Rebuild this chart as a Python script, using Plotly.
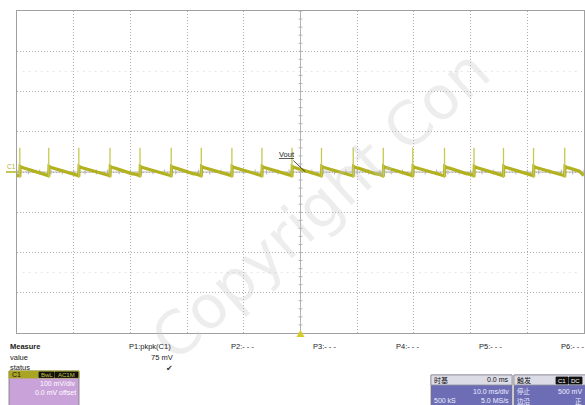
import plotly.graph_objects as go

# ---- data ----
spike_ms = [-49.5, -44.4, -39.1, -33.6, -28.3, -22.8, -17.5, -12.1, -6.8, -1.5,
            3.7, 9.3, 14.6, 19.8, 25.4, 30.6, 35.8, 41.1, 46.6]
spike_top_mv = 60
spike_low_mv = -15
decay_dt_ms = [0.05, 0.3, 1.0, 1.8, 2.6, 3.4, 3.8, 4.6, 5.2]
decay_mv = [14, 12, 9, 5, 2, -1, -4, -6, -8]
pre_mv = -9
t_range = [-50, 50]
v_range = [-400, 400]

W, H = 585, 405
L, R, T, B = 17, 1, 11, 72
PW, PH = W - L - R, H - T - B


def px(x):
    return (x - L) / PW


def py(y):
    return (H - B - y) / PH


# ---- build waveform from the values ----
xs, ys = [t_range[0], spike_ms[0] - 0.05], [pre_mv, pre_mv]
for i, t in enumerate(spike_ms):
    nxt = spike_ms[i + 1] if i + 1 < len(spike_ms) else t_range[1]
    xs.append(t); ys.append(-12)
    for dt, v in zip(decay_dt_ms, decay_mv):
        if t + dt < nxt - 0.05:
            xs.append(t + dt); ys.append(v)
    xs.append(nxt - 0.05); ys.append(decay_mv[-1] - 1)

sx, sy = [], []
for t in spike_ms:
    sx += [t, t, None]
    sy += [spike_low_mv, spike_top_mv, None]

fig = go.Figure()
fig.add_trace(go.Scatter(x=xs, y=ys, mode="lines",
                         line=dict(color="rgb(178,178,32)", width=3.2),
                         hoverinfo="skip", showlegend=False))
fig.add_trace(go.Scatter(x=sx, y=sy, mode="lines",
                         line=dict(color="rgb(200,200,80)", width=1.3),
                         hoverinfo="skip", showlegend=False))

shapes = []
GRID = "#b0b0b0"
# centre cross lines
shapes.append(dict(type="line", xref="x", yref="y", x0=0, x1=0, y0=v_range[0], y1=v_range[1],
                   line=dict(color="#b4b4b4", width=1), layer="below"))
shapes.append(dict(type="line", xref="x", yref="y", x0=t_range[0], x1=t_range[1], y0=0, y1=0,
                   line=dict(color="#b4b4b4", width=1), layer="below"))
# minor ticks on centre lines
for k in range(-25, 26):
    t = k * 2
    shapes.append(dict(type="line", xref="x", yref="y", x0=t, x1=t, y0=-6, y1=6,
                       line=dict(color="#b4b4b4", width=1), layer="below"))
for k in range(-20, 21):
    v = k * 20
    shapes.append(dict(type="line", xref="x", yref="y", x0=-0.35, x1=0.35, y0=v, y1=v,
                       line=dict(color="#b4b4b4", width=1), layer="below"))
# faint ghost rows
for v in (250, -250):
    shapes.append(dict(type="line", xref="x", yref="y", x0=t_range[0] + 1, x1=t_range[1] - 1, y0=v, y1=v,
                       line=dict(color="#e4e4e4", width=1, dash="2px,4px"), layer="below"))

# C1 ground marker
shapes.append(dict(type="line", xref="paper", yref="y", x0=px(6), x1=px(17), y0=0, y1=0,
                   line=dict(color="rgb(178,178,32)", width=1.5)))
# trigger marker at bottom
shapes.append(dict(type="path", xref="paper", yref="paper",
                   path=f"M {px(296.5)} {py(337)} L {px(304.5)} {py(337)} L {px(300.5)} {py(330)} Z",
                   fillcolor="rgb(215,205,40)", line=dict(width=0)))


def rect(x0, y0, x1, y1, fill, line="#777777"):
    shapes.append(dict(type="rect", xref="paper", yref="paper",
                       x0=px(x0), x1=px(x1), y0=py(y1), y1=py(y0),
                       fillcolor=fill, line=dict(color=line, width=0.8)))


# C1 box
rect(9, 371, 79, 406, "#c9a2d9")
rect(9, 371, 79, 378, "#aaa424", line="#aaa424")
rect(39, 372, 54, 377.5, "#111111", line="#111111")
rect(55, 372, 78, 377.5, "#111111", line="#111111")
# timebase box
rect(431, 375, 512, 406, "#6d6db5")
rect(431, 375, 512, 385, "#dcdce6", line="#9090a0")
# trigger box
rect(514, 375, 586, 406, "#6d6db5")
rect(514, 375, 586, 385, "#dcdce6", line="#9090a0")
rect(556, 377, 568, 384, "#111111", line="#111111")
rect(569, 377, 582, 384, "#111111", line="#111111")

ann = []
FONT = "Liberation Sans, Arial, sans-serif"
CJK = "Noto Sans CJK SC, sans-serif"


def text(x, y, s, size=7.5, color="#222222", anchor="left", bold=False, family=FONT):
    if bold:
        s = f"<b>{s}</b>"
    ann.append(dict(xref="paper", yref="paper", x=px(x), y=py(y), text=s, showarrow=False,
                    xanchor=anchor, yanchor="middle", borderpad=0,
                    font=dict(size=size, color=color, family=family)))


# watermark (drawn first so texts sit on top)
ann.append(dict(xref="paper", yref="paper", x=px(320), y=py(205), text="Copyright Con",
                showarrow=False, textangle=-42,
                font=dict(size=60, color="rgba(195,195,195,0.30)", family="DejaVu Sans")))

text(9, 346, "Measure", bold=True, size=7.5)
text(9, 357, "value")
text(9, 367, "status")
text(128, 346, "P1:pkpk(C1)")
text(174, 357, "75 mV", anchor="right")
text(174, 368, "✔", anchor="right", size=8, color="#333333", family="DejaVu Sans")
for lbl, x in [("P2:- - -", 230), ("P3:- - -", 312), ("P4:- - -", 395), ("P5:- - -", 478), ("P6:- - -", 560)]:
    text(x, 346, lbl)

text(11, 374.5, "C1", size=7, color="#111111")
text(46.5, 374.8, "BwL", size=6, color="#c8c040", anchor="center")
text(66.5, 374.8, "AC1M", size=6, color="#c8c040", anchor="center")
text(77, 384, "100 mV/div", size=7, color="#ffffff", anchor="right")
text(77, 392.5, "0.0 mV offset", size=7, color="#ffffff", anchor="right")

text(433, 380, "时基", size=7, color="#111111", family=CJK)
text(510, 380, "0.0 ms", size=7, color="#111111", anchor="right")
text(510, 391, "10.0 ms/div", size=7, color="#eeeeff", anchor="right")
text(433, 400, "500 kS", size=7, color="#eeeeff")
text(510, 400, "5.0 MS/s", size=7, color="#eeeeff", anchor="right")

text(516, 380, "触发", size=7, color="#111111", family=CJK)
text(562, 380.5, "C1", size=6, color="#ffffff", anchor="center")
text(575.5, 380.5, "DC", size=6, color="#ffffff", anchor="center")
text(516, 390.5, "停止", size=6.5, color="#eeeeff", family=CJK)
text(583, 391, "500 mV", size=7, color="#eeeeff", anchor="right")
text(516, 400.5, "边沿", size=6.5, color="#eeeeff", family=CJK)
text(583, 400.5, "正", size=6.5, color="#eeeeff", anchor="right", family=CJK)

text(6, 166, "C1", size=6.5, color="rgb(178,178,32)")

# Vout label with pointer
ann.append(dict(xref="x", yref="y", x=0.8, y=1, text="<u>Vout</u>", showarrow=True,
                ax=-18, ay=-17, arrowhead=0, arrowwidth=0.8, arrowcolor="#222222",
                font=dict(size=7.5, color="#222222", family=FONT)))

fig.update_layout(
    width=W, height=H, margin=dict(l=L, r=R, t=T, b=B, pad=0),
    paper_bgcolor="white", plot_bgcolor="white",
    xaxis=dict(range=t_range, tick0=-50, dtick=10, showgrid=True, gridcolor=GRID,
               griddash="1px,2px", gridwidth=1, zeroline=False, showticklabels=False, ticks="",
               showline=True, mirror=True, linecolor="#a0a0a0", linewidth=1, fixedrange=True),
    yaxis=dict(range=v_range, tick0=-400, dtick=100, showgrid=True, gridcolor=GRID,
               griddash="1px,2px", gridwidth=1, zeroline=False, showticklabels=False, ticks="",
               showline=True, mirror=True, linecolor="#a0a0a0", linewidth=1, fixedrange=True),
    shapes=shapes, annotations=ann, showlegend=False,
)

fig.write_html("out.html", config={"displayModeBar": False},
               post_script="document.body.style.margin='0px';document.body.style.overflow='hidden';")
